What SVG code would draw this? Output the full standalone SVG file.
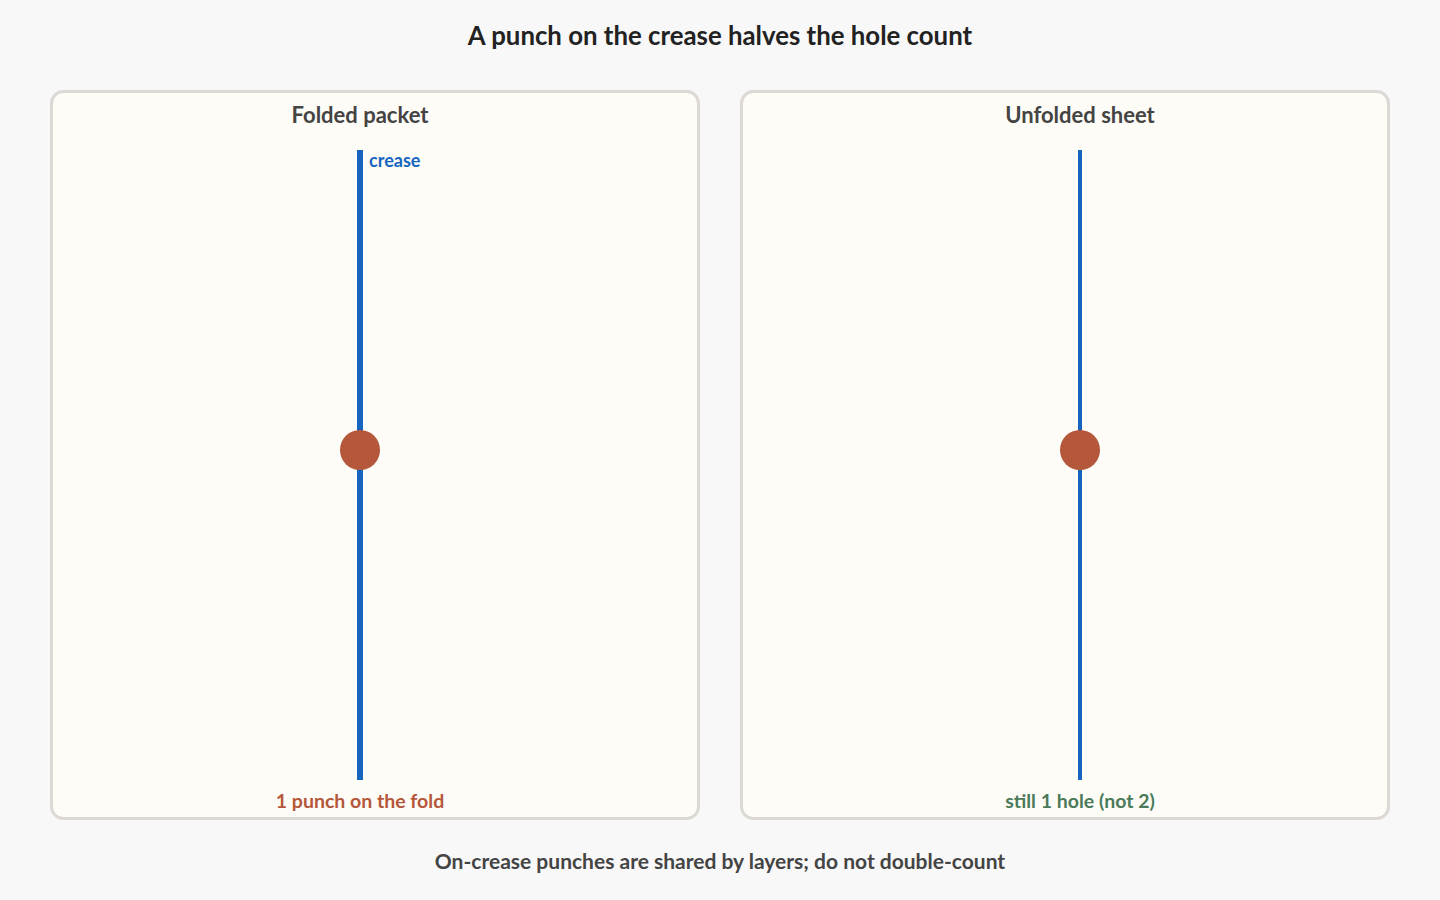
<svg xmlns="http://www.w3.org/2000/svg" width="1440" height="900" viewBox="0 0 1440 900">
<style>
text{font-family:Lato,"Noto Sans","Liberation Sans",sans-serif;font-weight:bold;text-anchor:middle;dominant-baseline:central}
.panel{fill:#fefcf6;stroke:#dcd9d4;stroke-width:3}
.crease{stroke:#1565c0;fill:none}
.hole{fill:#b5573a}
.ptitle{font-size:22px;fill:#444}
</style>
<rect width="1440" height="900" fill="#f8f8f8"/>
<text x="720" y="35" font-size="25.800" fill="#222">A punch on the crease halves the hole count</text>
<g id="folded">
<rect class="panel" x="51.500" y="91.500" width="647" height="727" rx="12"/>
<text class="ptitle" x="360" y="114">Folded packet</text>
<line class="crease" x1="360" y1="150" x2="360" y2="780" stroke-width="6"/>
<text x="369" y="160" font-size="18" fill="#1565c0" style="text-anchor:start">crease</text>
<circle class="hole" cx="360" cy="450" r="20"/>
<text x="360" y="800" font-size="19.500" fill="#b5573a">1 punch on the fold</text>
</g>
<g id="unfolded">
<rect class="panel" x="741.500" y="91.500" width="647" height="727" rx="12"/>
<text class="ptitle" x="1080" y="114">Unfolded sheet</text>
<line class="crease" x1="1080" y1="150" x2="1080" y2="780" stroke-width="4"/>
<circle class="hole" cx="1080" cy="450" r="20"/>
<text x="1080" y="800" font-size="19.500" fill="#4a7a5a">still 1 hole (not 2)</text>
</g>
<g id="connectors"/>
<text x="720" y="860" font-size="21" fill="#444">On-crease punches are shared by layers; do not double-count</text>
</svg>
